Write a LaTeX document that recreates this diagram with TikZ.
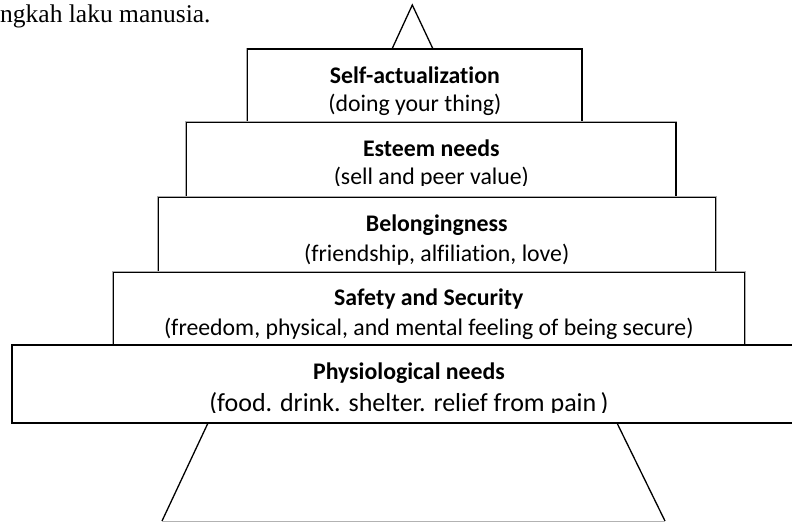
\documentclass[tikz,border=0pt]{standalone}
\usepackage{fontspec}
\setmainfont[Ligatures=NoCommon]{Carlito}
\newfontfamily\serifrm{Liberation Serif}
\begin{document}
\begin{tikzpicture}[x=1pt,y=-1pt,
  box/.style={draw=black, line width=1.5pt, fill=white, rectangle, inner sep=0pt, outer sep=0pt,
    preaction={draw=gray!65, line width=2.8pt}},
  ttl/.style={anchor=base, inner sep=0pt, font=\fontsize{23.8}{28}\selectfont\bfseries},
  sub/.style={anchor=base, inner sep=0pt, font=\fontsize{23.8}{28}\selectfont},
  edge/.style={line width=1.3pt, draw=black}]
\useasboundingbox (0,0) rectangle (792,522);
\clip (0,0) rectangle (792,522);

% intro text
\node[anchor=base west, inner sep=0pt, font=\serifrm\fontsize{25.5}{30}\selectfont] (intro) at (0,22.7) {ngkah laku manusia.};

% top triangle and bottom trapezoid
\coordinate (apex) at (412.3,5);
\coordinate (tbl) at (392,49);
\coordinate (tbr) at (433,49);
\draw[edge] (tbl) -- (apex) -- (tbr);
\coordinate (tl) at (208,423);
\coordinate (tr) at (617,423);
\coordinate (bl) at (162,521);
\coordinate (br) at (665,521);
\draw[edge] (tl) -- (bl);
\draw[edge] (tr) -- (br);
\draw[gray!60, line width=0.8pt] (bl) -- (br);

% boxes
\node[box, minimum width=334.3pt, minimum height=73.7pt] (self) at (414.85,85.85) {};
\node[box, minimum width=489.3pt, minimum height=74.8pt] (esteem) at (431.35,160.1) {};
\node[box, minimum width=557pt, minimum height=74.8pt] (belong) at (436.8,234.9) {};
\node[box, minimum width=631pt, minimum height=72.7pt] (safety) at (428.8,308.65) {};
\node[box, minimum width=794pt, minimum height=78pt] (phys) at (409,384) {};

% texts
\node[ttl] (selft) at (414.85,83) {Self-actualization};
\begin{scope}
\clip (247.7,49) rectangle (582,116.5);
\node[sub] (selfs) at (414.85,111) {(doing your thing)};
\end{scope}

\node[ttl] (esteemt) at (431.35,156.7) {Esteem needs};
\begin{scope}
\clip (186.7,122.7) rectangle (676,185.5);
\node[sub] (esteems) at (431.35,184) {(sell and peer value)};
\end{scope}

\node[ttl] (belongt) at (436.8,231.7) {Belongingness};
\node[sub] (belongs) at (436.8,261.7) {(friendship, alfiliation, love)};

\node[ttl] (safetyt) at (428.8,305) {Safety and Security};
\node[sub] (safetys) at (428.8,335) {(freedom, physical, and mental feeling of being secure)};

\node[ttl] (physt) at (409,379.3) {Physiological needs};
\begin{scope}
\clip (12,345) rectangle (792,412.5);
\node[anchor=base, inner sep=0pt, font=\fontsize{26}{30}\selectfont] (physs) at (409,411.5) {(food. drink. shelter. relief from pain\,)};
\end{scope}
\end{tikzpicture}
\end{document}
